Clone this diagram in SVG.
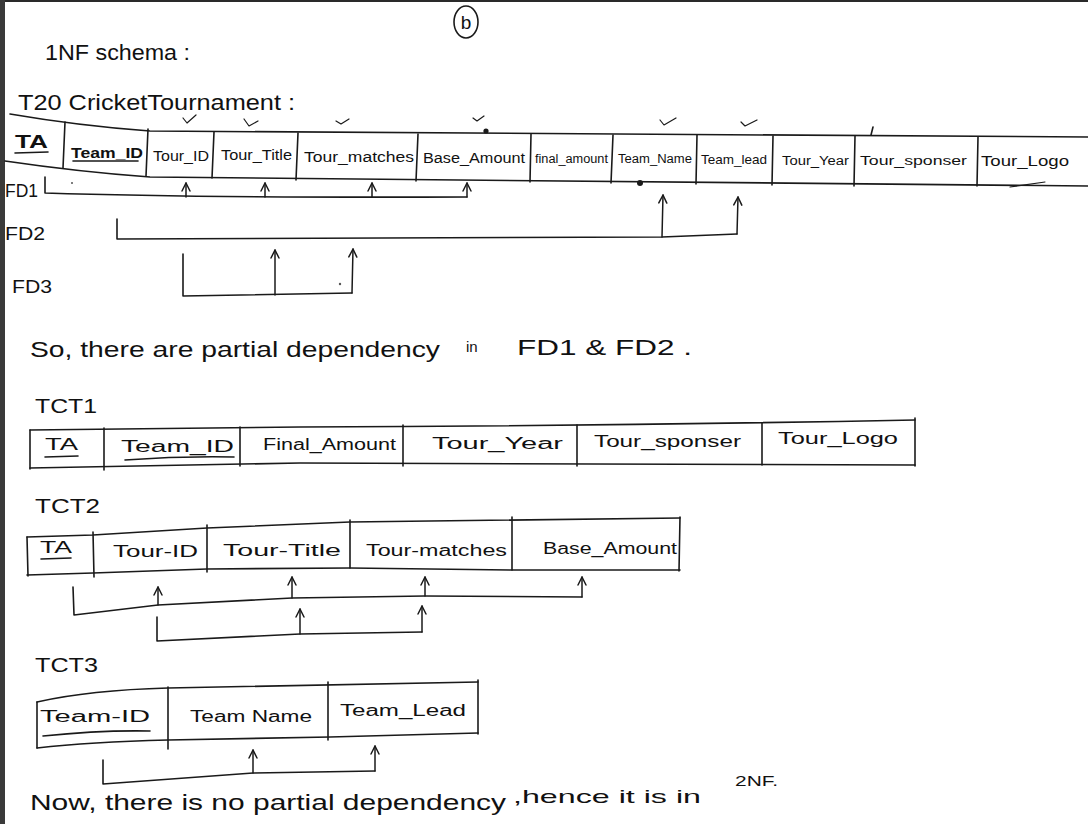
<svg xmlns="http://www.w3.org/2000/svg" width="1088" height="824" viewBox="0 0 1088 824">
<defs>
<marker id="ah" viewBox="0 0 10 10" refX="9" refY="5" markerWidth="10" markerHeight="10" markerUnits="userSpaceOnUse" orient="auto">
<path d="M1,1 L9,5 L1,9" fill="none" stroke="#1a1a1a" stroke-width="1.5" stroke-linecap="round" stroke-linejoin="round"/>
</marker>
<style>
.ln{fill:none;stroke:#1a1a1a;stroke-width:1.6;stroke-linecap:round;stroke-linejoin:round}
.thin{fill:none;stroke:#1a1a1a;stroke-width:1.2;stroke-linecap:round;stroke-linejoin:round}
.t{font-family:"Liberation Sans",Arial,sans-serif;fill:#111}
.h{font-size:22px}
.c{font-size:14px}
.c2{font-size:16px}
.arr{fill:none;stroke:#1a1a1a;stroke-width:1.5;stroke-linecap:round;marker-end:url(#ah)}
</style>
</defs>
<rect x="0" y="0" width="1088" height="824" fill="#ffffff"/>
<rect x="0" y="0" width="1088" height="2" fill="#2a2a2a"/>
<rect x="0" y="0" width="5" height="824" fill="#3a3a3a"/>

<g id="label-b">
<ellipse cx="466" cy="22" rx="12" ry="16" class="ln"/>
<text class="t" x="466" y="29" font-size="19" text-anchor="middle">b</text>
</g>

<g id="title">
<text class="t h" x="45" y="60" textLength="145" lengthAdjust="spacingAndGlyphs">1NF schema :</text>
<text class="t h" x="18" y="110" textLength="277" lengthAdjust="spacingAndGlyphs">T20 CricketTournament :</text>
</g>

<g id="t20-table">
<path class="ln" d="M10,114 Q80,126 150,131 L1088,137"/>
<path class="ln" d="M5,161 Q80,172 150,177 L1088,186"/>
<g id="t20-TA"><text class="t" x="15" y="148" font-size="19" font-weight="bold" textLength="33" lengthAdjust="spacingAndGlyphs">TA</text><path class="ln" d="M15,153 L48,152"/></g>
<g id="t20-Team_ID"><path class="ln" d="M65,122 L63,168"/><text class="t c" x="71" y="158" font-weight="bold" textLength="72" lengthAdjust="spacingAndGlyphs">Team_ID</text><path class="ln" d="M73,161 L138,161"/></g>
<g id="t20-Tour_ID"><path class="ln" d="M148,129 L146,176"/><text class="t c" x="153" y="161" textLength="56" lengthAdjust="spacingAndGlyphs">Tour_ID</text></g>
<g id="t20-Tour_Title"><path class="ln" d="M214,132 L212,178"/><text class="t c" x="221" y="160" textLength="71" lengthAdjust="spacingAndGlyphs">Tour_Title</text></g>
<g id="t20-Tour_matches"><path class="ln" d="M298,133 L296,180"/><text class="t c" x="304" y="162" textLength="110" lengthAdjust="spacingAndGlyphs">Tour_matches</text></g>
<g id="t20-Base_Amount"><path class="ln" d="M418,134 L416,181"/><text class="t c" x="423" y="163" textLength="102" lengthAdjust="spacingAndGlyphs">Base_Amount</text></g>
<g id="t20-final_amount"><path class="ln" d="M531,134 L530,182"/><text class="t" x="535" y="163" font-size="12" textLength="73" lengthAdjust="spacingAndGlyphs">final_amount</text></g>
<g id="t20-Team_Name"><path class="ln" d="M613,135 L611,183"/><text class="t" x="618" y="163" font-size="12" textLength="74" lengthAdjust="spacingAndGlyphs">Team_Name</text></g>
<g id="t20-Team_lead"><path class="ln" d="M697,135 L696,184"/><text class="t" x="701" y="164" font-size="13" textLength="66" lengthAdjust="spacingAndGlyphs">Team_lead</text></g>
<g id="t20-Tour_Year"><path class="ln" d="M773,136 L772,185"/><text class="t" x="782" y="165" font-size="12" textLength="67" lengthAdjust="spacingAndGlyphs">Tour_Year</text></g>
<g id="t20-Tour_sponser"><path class="ln" d="M855,136 L854,186"/><text class="t" x="860" y="165" font-size="12" textLength="107" lengthAdjust="spacingAndGlyphs">Tour_sponser</text></g>
<g id="t20-Tour_Logo"><path class="ln" d="M978,137 L977,186"/><text class="t" x="981" y="166" font-size="14" textLength="88" lengthAdjust="spacingAndGlyphs">Tour_Logo</text></g>
</g>

<g id="marks">
<path class="thin" d="M183,118 L187,123 L196,115"/>
<path class="thin" d="M244,119 L249,126 L258,121"/>
<path class="thin" d="M336,121 L341,124 L349,119"/>
<path class="thin" d="M473,118 L477,121 L484,116"/>
<path class="thin" d="M660,120 L664,125 L676,118"/>
<path class="thin" d="M741,122 L745,126 L757,120"/>
<circle cx="486" cy="131" r="2.6" fill="#1a1a1a"/>
<path class="ln" d="M873,127 L871,135" stroke-width="2.4"/>
<circle cx="640" cy="183" r="3" fill="#1a1a1a"/>
<path class="thin" d="M1010,187 L1045,182"/>
<circle cx="72" cy="183" r="1" fill="#555"/>
<circle cx="340" cy="284" r="1.2" fill="#555"/>
</g>

<g id="fd-labels">
<text class="t" x="5" y="197" font-size="18" textLength="33" lengthAdjust="spacingAndGlyphs">FD1</text>
<text class="t" x="5" y="240" font-size="18" textLength="40" lengthAdjust="spacingAndGlyphs">FD2</text>
<text class="t" x="12" y="293" font-size="18" textLength="40" lengthAdjust="spacingAndGlyphs">FD3</text>
</g>

<g id="connectors">
<path class="ln" d="M45,177 L45,193 Q200,198 467,197"/>
<path class="arr" d="M186,197 L186,183"/>
<path class="arr" d="M265,197 L265,183"/>
<path class="arr" d="M372,197 L372,183"/>
<path class="arr" d="M467,197 L467,183"/>
<path class="ln" d="M117,219 L117,239 L662,237 L737,234"/>
<path class="arr" d="M662,237 L663,195"/>
<path class="arr" d="M737,234 L738,197"/>
<path class="ln" d="M183,254 L183,296 L352,293"/>
<path class="arr" d="M275,295 L275,250"/>
<path class="arr" d="M352,293 L353,249"/>

<path class="ln" d="M73,587 L74,615 L158,605 L292,598 L425,596 L582,597"/>
<path class="arr" d="M158,605 L158,587"/>
<path class="arr" d="M292,598 L292,577"/>
<path class="arr" d="M425,596 L425,577"/>
<path class="arr" d="M582,597 L582,577"/>
<path class="ln" d="M157,617 L157,641 L300,634 L422,632"/>
<path class="arr" d="M300,634 L300,609"/>
<path class="arr" d="M422,632 L422,606"/>

<path class="ln" d="M103,760 L103,784 L253,773 L375,771"/>
<path class="arr" d="M253,773 L253,750"/>
<path class="arr" d="M375,771 L375,746"/>
</g>

<g id="sentence-1">
<text class="t h" x="30" y="357" textLength="410" lengthAdjust="spacingAndGlyphs">So, there are partial dependency</text>
<text class="t" x="466" y="352" font-size="15">in</text>
<text class="t h" x="517" y="355" textLength="175" lengthAdjust="spacingAndGlyphs">FD1 &amp; FD2 .</text>
</g>

<g id="TCT1">
<text class="t" x="35" y="413" font-size="20" textLength="62" lengthAdjust="spacingAndGlyphs">TCT1</text>
<path class="ln" d="M30,430 L300,427 Q600,426 915,420"/>
<path class="ln" d="M30,468 L300,463 L915,465"/>
<path class="ln" d="M30,430 L30,469"/>
<path class="ln" d="M915,418 L915,466"/>
<g id="TCT1-TA"><text class="t c2" x="45" y="450" textLength="33" lengthAdjust="spacingAndGlyphs">TA</text><path class="ln" d="M45,457 L78,456"/></g>
<g id="TCT1-Team_ID"><path class="ln" d="M104,428 L104,470"/><text class="t c2" x="121" y="452" textLength="113" lengthAdjust="spacingAndGlyphs">Team_ID</text><path class="ln" d="M125,460 Q180,456 234,457"/></g>
<g id="TCT1-Final_Amount"><path class="ln" d="M240,427 L240,466"/><text class="t c2" x="263" y="450" textLength="133" lengthAdjust="spacingAndGlyphs">Final_Amount</text></g>
<g id="TCT1-Tour_Year"><path class="ln" d="M403,425 L403,466"/><text class="t c2" x="432" y="449" textLength="131" lengthAdjust="spacingAndGlyphs">Tour_Year</text></g>
<g id="TCT1-Tour_sponser"><path class="ln" d="M577,425 L577,466"/><text class="t c2" x="594" y="447" textLength="147" lengthAdjust="spacingAndGlyphs">Tour_sponser</text></g>
<g id="TCT1-Tour_Logo"><path class="ln" d="M762,423 L762,465"/><text class="t c2" x="778" y="444" textLength="120" lengthAdjust="spacingAndGlyphs">Tour_Logo</text></g>
</g>

<g id="TCT2">
<text class="t" x="35" y="513" font-size="20" textLength="65" lengthAdjust="spacingAndGlyphs">TCT2</text>
<path class="ln" d="M27,537 L93,535 L207,528 L350,522 L680,518"/>
<path class="ln" d="M27,575 L93,573 L207,569 L350,568 L512,570 L680,570"/>
<path class="ln" d="M27,537 L28,576"/>
<path class="ln" d="M680,517 L679,571"/>
<g id="TCT2-TA"><text class="t c2" x="40" y="553" textLength="32" lengthAdjust="spacingAndGlyphs">TA</text><path class="ln" d="M41,559 L71,558"/></g>
<g id="TCT2-Tour_ID"><path class="ln" d="M93,532 L94,577"/><text class="t c2" x="113" y="557" textLength="85" lengthAdjust="spacingAndGlyphs">Tour-ID</text></g>
<g id="TCT2-Tour_Title"><path class="ln" d="M207,525 L207,572"/><text class="t c2" x="223" y="556" textLength="118" lengthAdjust="spacingAndGlyphs">Tour-Title</text></g>
<g id="TCT2-Tour_matches"><path class="ln" d="M350,520 L350,568"/><text class="t c2" x="366" y="556" textLength="141" lengthAdjust="spacingAndGlyphs">Tour-matches</text></g>
<g id="TCT2-Base_Amount"><path class="ln" d="M512,517 L512,570"/><text class="t c2" x="543" y="554" textLength="134" lengthAdjust="spacingAndGlyphs">Base_Amount</text></g>
</g>

<g id="TCT3">
<text class="t" x="35" y="672" font-size="20" textLength="63" lengthAdjust="spacingAndGlyphs">TCT3</text>
<path class="ln" d="M37,702 Q90,690 168,688 L478,682"/>
<path class="ln" d="M37,748 Q90,742 168,740 L330,737 L478,733"/>
<path class="ln" d="M37,702 L37,748"/>
<path class="ln" d="M478,680 L478,734"/>
<g id="TCT3-Team_ID"><text class="t c2" x="40" y="722" textLength="110" lengthAdjust="spacingAndGlyphs">Team-ID</text><path class="ln" d="M43,736 Q100,730 150,731"/></g>
<g id="TCT3-Team_Name"><path class="ln" d="M168,687 L168,749"/><text class="t c2" x="190" y="722" textLength="122" lengthAdjust="spacingAndGlyphs">Team Name</text></g>
<g id="TCT3-Team_Lead"><path class="ln" d="M328,682 L328,740"/><text class="t c2" x="340" y="716" textLength="126" lengthAdjust="spacingAndGlyphs">Team_Lead</text></g>
</g>

<g id="sentence-2">
<text class="t h" x="30" y="810" textLength="476" lengthAdjust="spacingAndGlyphs">Now, there is no partial dependency</text>
<text class="t" x="513" y="803" font-size="19" textLength="188" lengthAdjust="spacingAndGlyphs">,hence it is in</text>
<text class="t" x="735" y="786" font-size="14" textLength="43" lengthAdjust="spacingAndGlyphs">2NF.</text>
</g>
</svg>
